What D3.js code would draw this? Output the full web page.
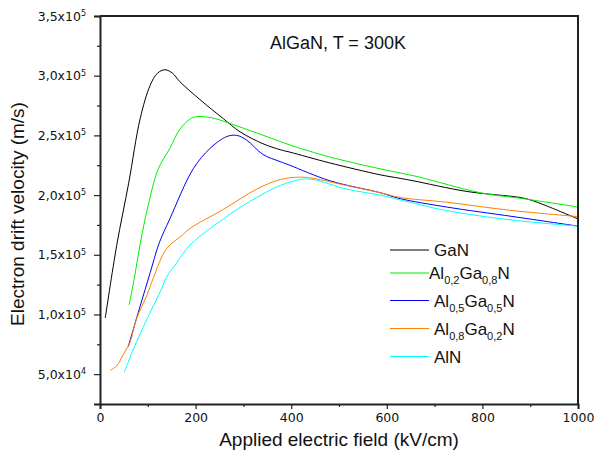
<!DOCTYPE html>
<html>
<head>
<meta charset="utf-8">
<script src="https://cdn.jsdelivr.net/npm/d3@7"></script>
<style>
  body { margin: 0; background: #fff; }
  svg { display: block; }
  .tick text { font-family: "DejaVu Sans", sans-serif; font-size: 12.5px; fill: #111; }
  .lbl { font-family: "Liberation Sans", Arial, sans-serif; fill: #111; }
</style>
</head>
<body>
<div id="chart"></div>
<script>
// values: field in kV/cm, velocity in units of 1e5 m/s
var fieldGaN = [11, 35, 60, 84, 105, 120, 136, 152, 167, 209, 258, 293, 341, 377, 397, 480, 586, 628, 655, 768, 879, 900, 934, 1000];
var velGaN   = [0.97, 1.58, 2.10, 2.64, 2.92, 3.02, 3.05, 3.02, 2.95, 2.80, 2.64, 2.53, 2.43, 2.38, 2.36, 2.27, 2.17, 2.14, 2.12, 2.03, 1.98, 1.96, 1.91, 1.80];

var fieldAl02 = [61, 73, 84, 100, 122, 146, 167, 195, 230, 272, 314, 356, 397, 480, 586, 628, 669, 795, 885, 1000];
var velAl02   = [1.08, 1.33, 1.59, 1.90, 2.22, 2.39, 2.55, 2.65, 2.65, 2.60, 2.54, 2.48, 2.42, 2.32, 2.22, 2.185, 2.15, 2.02, 1.97, 1.90];

var fieldAl05 = [59, 70, 84, 105, 124, 146, 195, 230, 265, 286, 307, 341, 377, 397, 481, 586, 628, 725, 864, 1000];
var velAl05   = [0.73, 0.88, 1.07, 1.35, 1.60, 1.80, 2.22, 2.39, 2.49, 2.50, 2.46, 2.34, 2.28, 2.25, 2.12, 2.02, 1.97, 1.90, 1.82, 1.74];

var fieldAl08 = [21, 35, 48, 63, 76, 98, 112, 139, 171, 188, 258, 328, 377, 418, 446, 516, 586, 628, 725, 864, 1000];
var velAl08   = [0.53, 0.57, 0.66, 0.77, 0.96, 1.16, 1.31, 1.55, 1.66, 1.72, 1.88, 2.05, 2.13, 2.15, 2.14, 2.08, 2.02, 1.98, 1.94, 1.87, 1.82];

var fieldAlN = [51, 70, 98, 126, 139, 160, 188, 230, 258, 279, 328, 377, 418, 446, 516, 586, 628, 725, 864, 1000];
var velAlN   = [0.52, 0.71, 0.96, 1.19, 1.31, 1.43, 1.58, 1.72, 1.80, 1.86, 1.98, 2.08, 2.13, 2.13, 2.05, 2.00, 1.96, 1.87, 1.79, 1.74];

var seriesNames = ["GaN", "Al0,2Ga0,8N", "Al0,5Ga0,5N", "Al0,8Ga0,2N", "AlN"];
var seriesColors = ["#000000", "#00f000", "#0000ff", "#ff8000", "#00ffff"];

var xTicks = [0, 200, 400, 600, 800, 1000];
var xMinor = [100, 300, 500, 700, 900];
var yTicks = [5e4, 1e5, 1.5e5, 2e5, 2.5e5, 3e5, 3.5e5];
var yMinor = [7.5e4, 1.25e5, 1.75e5, 2.25e5, 2.75e5, 3.25e5];

var titleText = "AlGaN, T = 300K";
var xTitle = "Applied electric field (kV/cm)";
var yTitle = "Electron drift velocity (m/s)";

var margin = { top: 16, right: 16, bottom: 50, left: 100 },
    W = 594, H = 454,
    width = W - margin.left - margin.right,
    height = H - margin.top - margin.bottom;

var x = d3.scaleLinear().domain([0, 1000]).range([0, width]);
var y = d3.scaleLinear().domain([2.5e4, 3.5e5]).range([height, 0]);

var svg = d3.select("#chart").append("svg")
    .attr("width", W)
    .attr("height", H);
var g = svg.append("g")
    .attr("transform", "translate(" + margin.left + "," + margin.top + ")");

// series
var data = [
  [fieldGaN, velGaN], [fieldAl02, velAl02], [fieldAl05, velAl05], [fieldAl08, velAl08], [fieldAlN, velAlN]
].map(function(s, i) {
  return {
    name: seriesNames[i],
    color: seriesColors[i],
    points: s[0].map(function(f, j) { return { f: f, v: s[1][j] * 1e5 }; })
  };
});

var line = d3.line()
    .x(function(d) { return x(d.f); })
    .y(function(d) { return y(d.v); })
    .curve(d3.curveCatmullRom.alpha(0.5));

g.selectAll(".series")
    .data(data)
  .enter().append("path")
    .attr("class", "series")
    .attr("fill", "none")
    .attr("stroke", function(d) { return d.color; })
    .attr("stroke-width", 1)
    .attr("d", function(d) { return line(d.points); });

// frame
g.append("path")
    .attr("d", "M0,0H" + width + "V" + height)
    .attr("fill", "none")
    .attr("stroke", "#222")
    .attr("stroke-width", 2);

// x axis
g.append("g")
    .attr("transform", "translate(0," + height + ")")
    .call(d3.axisBottom(x).tickValues(xTicks).tickSize(5).tickPadding(4).tickFormat(d3.format("d")));
g.append("g")
    .attr("transform", "translate(0," + height + ")")
    .call(d3.axisBottom(x).tickValues(xMinor).tickSize(3).tickFormat(""))
    .select(".domain").remove();

// y axis
function sciLabel(sel) {
  sel.each(function(d) {
    var e = Math.floor(Math.log10(d));
    var m = (d / Math.pow(10, e)).toFixed(1).replace(".", ",");
    var t = d3.select(this).text(null);
    t.append("tspan").text(m + "x10");
    t.append("tspan").attr("dy", "-0.55em").attr("font-size", "8px").text(e);
  });
}
var yAxis = g.append("g")
    .call(d3.axisLeft(y).tickValues(yTicks).tickSize(6).tickPadding(8));
yAxis.selectAll(".tick text").call(sciLabel);
g.append("g")
    .call(d3.axisLeft(y).tickValues(yMinor).tickSize(3).tickFormat(""))
    .select(".domain").remove();

g.selectAll(".domain").attr("stroke", "#222").attr("stroke-width", 2);
g.selectAll(".tick line").attr("stroke", "#222").attr("stroke-width", 1.2);

// titles
svg.append("text").attr("class", "lbl")
    .attr("x", 270).attr("y", 49)
    .attr("font-size", 18)
    .text(titleText);

svg.append("text").attr("class", "lbl")
    .attr("x", margin.left + width / 2).attr("y", 446)
    .attr("text-anchor", "middle")
    .attr("font-size", 19)
    .text(xTitle);

svg.append("text").attr("class", "lbl")
    .attr("transform", "translate(24," + (margin.top + height / 2 + 4) + ") rotate(-90)")
    .attr("text-anchor", "middle")
    .attr("font-size", 19)
    .text(yTitle);

// legend
var leg = svg.append("g").attr("transform", "translate(390,250)");
var items = leg.selectAll(".item")
    .data(data)
  .enter().append("g")
    .attr("transform", function(d, i) { return "translate(0," + [0, 23, 50.5, 78.5, 106.5][i] + ")"; });
items.append("line")
    .attr("x1", 0).attr("x2", 39)
    .attr("stroke", function(d) { return d.color; })
    .attr("stroke-width", 1);
items.append("text").attr("class", "lbl")
    .attr("x", function(d, i) { return i === 1 ? 39 : 44; })
    .attr("y", 6)
    .attr("font-size", 17)
    .each(function(d) {
      var t = d3.select(this);
      // split "Al0,2Ga0,8N" into plain and subscript parts
      var parts = d.name.match(/[A-Za-z]+|[0-9,]+/g);
      var sub = false;
      parts.forEach(function(p) {
        var isNum = /^[0-9]/.test(p);
        var ts = t.append("tspan").text(p);
        if (isNum && !sub) { ts.attr("dy", 5).attr("font-size", 11); sub = true; }
        else if (!isNum && sub) { ts.attr("dy", -5); sub = false; }
      });
    });
</script>
</body>
</html>
